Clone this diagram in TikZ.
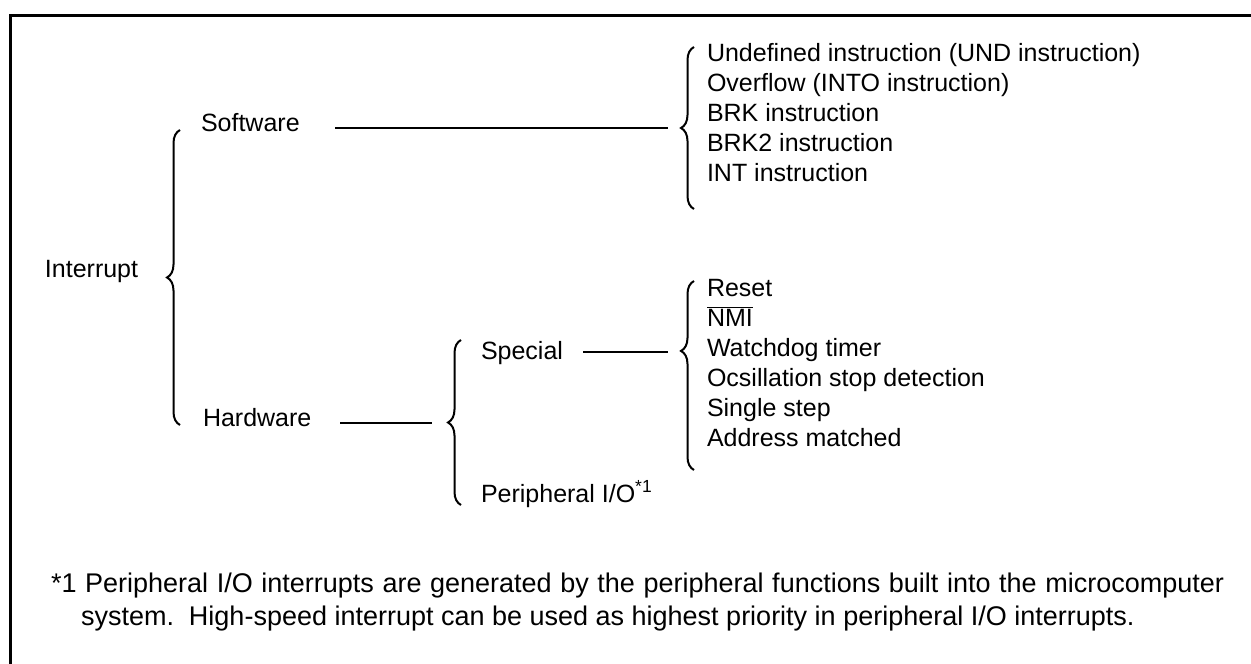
\documentclass[tikz,border=0pt]{standalone}
\usepackage{fontspec}
\setmainfont{Liberation Sans}
\usetikzlibrary{decorations.pathreplacing}

\begin{document}
\begin{tikzpicture}[x=1pt,y=-1pt,line width=2pt,font=\fontsize{25}{30}\selectfont,
  lbl/.style={anchor=base west,inner sep=0pt},
  note/.style={lbl,font=\fontsize{27}{32}\selectfont},
  brc/.style={decorate,decoration={brace,amplitude=13pt,aspect=#1}},brc/.default=0.5]
\useasboundingbox (0,0) rectangle (1251,664);
\draw[line width=3pt] (1251,15) -- (10,15) -- (10,664);
% left side of the tree
\node[lbl] (intr) at (44,277) {Interrupt};
\node[lbl] (sw) at (200,131) {Software};
\node[lbl] (hw) at (202,426) {Hardware};
\node[lbl] (spc) at (480,359) {Special};
\node[lbl] (pio) at (480,502) {Peripheral I/O\textsuperscript{*1}};
\draw[brc] (180,425) -- (180,130);
\draw[brc] (461,505) -- (461,340);
% lists
\foreach \i/\t in {0/Undefined instruction (UND instruction),1/Overflow (INTO instruction),2/BRK instruction,3/BRK2 instruction,4/INT instruction}{\node[lbl] (swi\i) at (706,61+30*\i) {\t};}
\foreach \i/\t in {0/Reset,1/{$\overline{\mbox{NMI}}$},2/Watchdog timer,3/Ocsillation stop detection,4/Single step,5/Address matched}{\node[lbl] (spi\i) at (706,296+30*\i) {\t};}
\draw[brc] (694,209) -- (694,47);
\draw[brc=0.63] (694,470) -- (694,281);
% connectors
\coordinate (swa) at (335,128); \coordinate (swb) at (668,128);
\coordinate (spa) at (583,352); \coordinate (spb) at (668,352);
\coordinate (hwa) at (340,423); \coordinate (hwb) at (432,423);
\draw (swa) -- (swb);
\draw (spa) -- (spb);
\draw (hwa) -- (hwb);
% footnote
\node[note] (fn1) at (50,592) {\makebox[1173pt][s]{*1 Peripheral I/O interrupts are generated by the peripheral functions built into the microcomputer}};
\node[note] (fn2) at (80,625) {system.\ \ High-speed interrupt can be used as highest priority in peripheral I/O interrupts.};
\end{tikzpicture}
\end{document}
